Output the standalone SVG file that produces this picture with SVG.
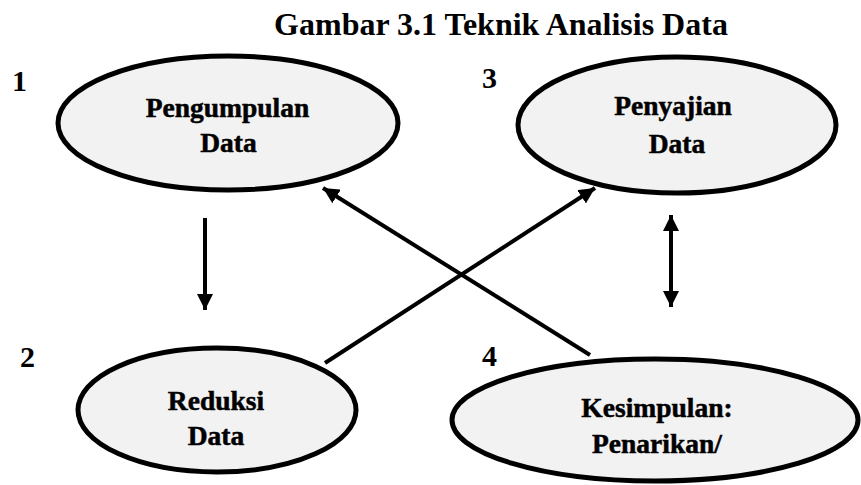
<svg xmlns="http://www.w3.org/2000/svg" width="861" height="485" viewBox="0 0 861 485">
<style>
.node ellipse{fill:#f2f2f2;stroke:#000;stroke-width:5}
.lbl{font-family:"Liberation Serif","Times New Roman",serif;font-weight:bold;font-size:27.5px;text-anchor:middle;fill:#000;stroke:#000;stroke-width:0.5}
.num{font-family:"Liberation Serif","Times New Roman",serif;font-weight:bold;font-size:30px;fill:#000}
.title{font-family:"Liberation Serif","Times New Roman",serif;font-weight:bold;font-size:32px;text-anchor:middle;fill:#000}
.conn line{stroke:#000;stroke-width:4}
</style>
<defs>
<marker id="ah" viewBox="0 0 10 10" refX="10" refY="5" markerWidth="4" markerHeight="4" orient="auto-start-reverse" markerUnits="strokeWidth">
<path d="M0,0 L10,5 L0,10 z" fill="#000"/>
</marker>
</defs>
<rect width="861" height="485" fill="#fff"/>
<text class="title" x="501" y="35">Gambar 3.1 Teknik Analisis Data</text>
<text class="num" x="12" y="91">1</text>
<text class="num" x="482" y="88">3</text>
<text class="num" x="20" y="367">2</text>
<text class="num" x="482" y="366">4</text>
<g class="conn">
<line x1="205" y1="218" x2="205" y2="310" marker-end="url(#ah)"/>
<line x1="590" y1="355" x2="323" y2="188" marker-end="url(#ah)"/>
<line x1="325" y1="363" x2="595" y2="188" marker-end="url(#ah)"/>
<line x1="671" y1="215" x2="671" y2="307" marker-start="url(#ah)" marker-end="url(#ah)"/>
</g>
<g id="n1" class="node">
<ellipse cx="228" cy="123" rx="170" ry="67"/>
<text class="lbl" x="227.5" y="117">Pengumpulan</text>
<text class="lbl" x="228.5" y="152">Data</text>
</g>
<g id="n3" class="node">
<ellipse cx="677" cy="125" rx="159" ry="68"/>
<text class="lbl" x="673" y="115">Penyajian</text>
<text class="lbl" x="677" y="153">Data</text>
</g>
<g id="n2" class="node">
<ellipse cx="217" cy="410" rx="139" ry="62"/>
<text class="lbl" x="216" y="410">Reduksi</text>
<text class="lbl" x="216" y="445">Data</text>
</g>
<g id="n4" class="node">
<ellipse cx="655" cy="420" rx="203" ry="61"/>
<text class="lbl" x="657" y="417">Kesimpulan:</text>
<text class="lbl" x="657" y="453">Penarikan/</text>
</g>
</svg>
